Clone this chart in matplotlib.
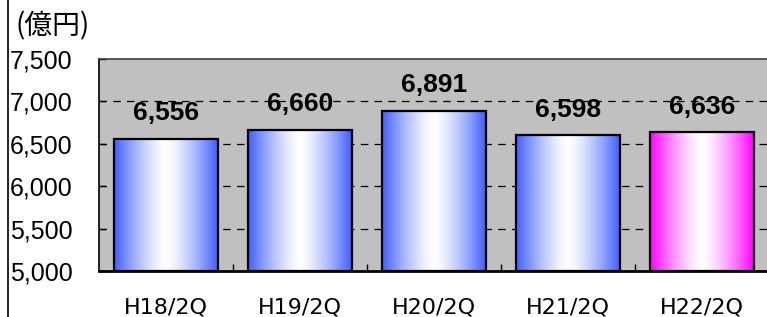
import numpy as np
import matplotlib
matplotlib.use('Agg')
import matplotlib.pyplot as plt
from matplotlib.patches import Rectangle
from matplotlib.lines import Line2D

# data
periods = ['H18/2Q', 'H19/2Q', 'H20/2Q', 'H21/2Q', 'H22/2Q']
sales = [6556, 6660, 6891, 6598, 6636]
value_labels = ['6,556', '6,660', '6,891', '6,598', '6,636']
y_ticks = [5000, 5500, 6000, 6500, 7000, 7500]
y_tick_labels = ['5,000', '5,500', '6,000', '6,500', '7,000', '7,500']
unit = '(億円)'

blue = np.array([0.25, 0.37, 1.0])
magenta = np.array([1.0, 0.0, 1.0])
bar_colors = [blue, blue, blue, blue, magenta]

fig = plt.figure(figsize=(7.67, 3.17), dpi=100)
ax = fig.add_axes([99/767, 46/317, 670/767, 212/317])
ax.set_facecolor('#c0c0c0')

ax.set_xlim(-0.5, 4.5)
ax.set_ylim(5000, 7500)

# dashed grid behind bars
for yv in y_ticks[1:-1]:
    ax.axhline(yv, color='black', lw=0.9, ls=(0, (6, 5)), zorder=1)

bw = 0.776

def gradient_bar(x, h, col):
    # horizontal gradient: colour at the edges, white in the middle
    t = np.abs(np.linspace(-1, 1, 200))
    f = t ** 1.4
    img = np.ones((1, 200, 3)) * (1 - f)[None, :, None] + col[None, None, :] * f[None, :, None]
    im = ax.imshow(img, extent=[x - bw/2, x + bw/2, 5000, h], aspect='auto',
                   interpolation='bilinear', zorder=2)
    rect = Rectangle((x - bw/2, 5000), bw, h - 5000, facecolor='none',
                     edgecolor='black', lw=1.6, zorder=3)
    ax.add_patch(rect)
    im.set_clip_path(rect)

for i, v in enumerate(sales):
    gradient_bar(i, v, bar_colors[i])
    ax.annotate(value_labels[i], (i, v), xytext=(0, 13.5), textcoords='offset points',
                ha='center', va='baseline', fontsize=19, fontweight='bold',
                family='Liberation Sans', zorder=4)

ax.set_yticks(y_ticks)
ax.set_yticklabels(y_tick_labels, fontsize=18, family='Liberation Sans')
ax.set_xticks(range(len(periods)))
ax.set_xticklabels(periods, fontsize=16, family='DejaVu Sans')
ax.set_xticks([0.5, 1.5, 2.5, 3.5], minor=True)
ax.tick_params(axis='x', which='major', length=0, pad=19)
ax.tick_params(axis='x', which='minor', direction='in', length=5, width=1)
ax.tick_params(axis='y', direction='in', length=5, width=1, pad=19)
ax.set_aspect('auto')

ax.spines['left'].set_linewidth(1.2)
ax.spines['bottom'].set_linewidth(2)
ax.spines['top'].set_color('#404040')
ax.spines['top'].set_linewidth(1.2)
ax.spines['right'].set_visible(False)

fig.text(16/767, 1 - 26/317, unit, fontsize=20, family=['Noto Sans CJK JP', 'DejaVu Sans'],
         ha='left', va='center')

# outer chart border on the left
fig.add_artist(Line2D([8/767, 8/767], [0, 1], color='black', lw=1.2))

fig.savefig('out.png', dpi=100)
